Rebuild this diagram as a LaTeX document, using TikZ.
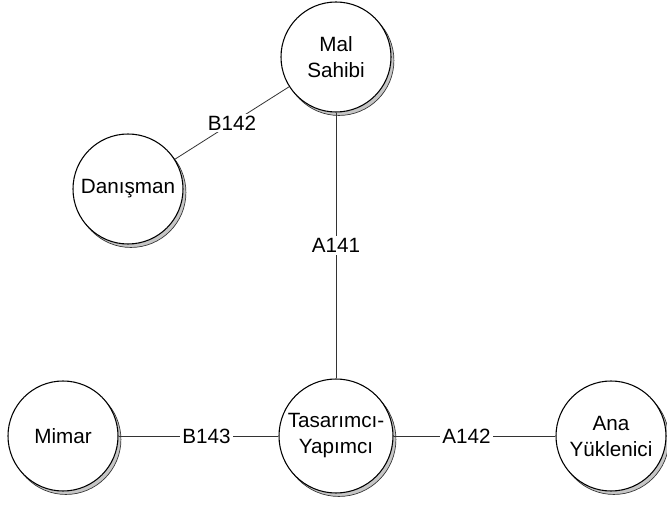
\documentclass[tikz,border=0pt]{standalone}
\usepackage{fontspec}
\setmainfont{Liberation Sans}
\usetikzlibrary{shadows}
\begin{document}
\begin{tikzpicture}[x=0.75pt,y=-0.75pt,
  party/.style={circle, draw=black, fill=white, line width=0.8pt, inner sep=0pt,
    minimum size=82.5pt, align=center, font=\fontsize{15.5}{19.5}\selectfont,
    general shadow={shadow xshift=2.2pt, shadow yshift=-2.6pt, fill=gray!45, draw=black!80, line width=0.5pt}},
  link/.style={draw=black!80, line width=0.6pt},
  lbl/.style={fill=white, inner sep=1.5pt, font=\fontsize{15.5}{19.5}\selectfont}]
\useasboundingbox (0,0) rectangle (667,509);
\node[party] (ms) at (336,57) {Mal\\Sahibi};
\node[party] (dn) at (128,189) {Danışman};
\node[party] (mi) at (63,436) {Mimar};
\node[party, minimum size=85.5pt] (ty) at (336,436) {Tasarımcı-\\Yapımcı};
\node[party] (ay) at (611,436) {Ana\\Yüklenici};
\draw[link] (dn) -- node[lbl] {B142} (ms);
\draw[link] (ms) -- node[lbl] {A141} (ty);
\draw[link] (mi) -- node[lbl, pos=0.55] {B143} (ty);
\draw[link] (ty) -- node[lbl, pos=0.45] {A142} (ay);
\end{tikzpicture}
\end{document}
